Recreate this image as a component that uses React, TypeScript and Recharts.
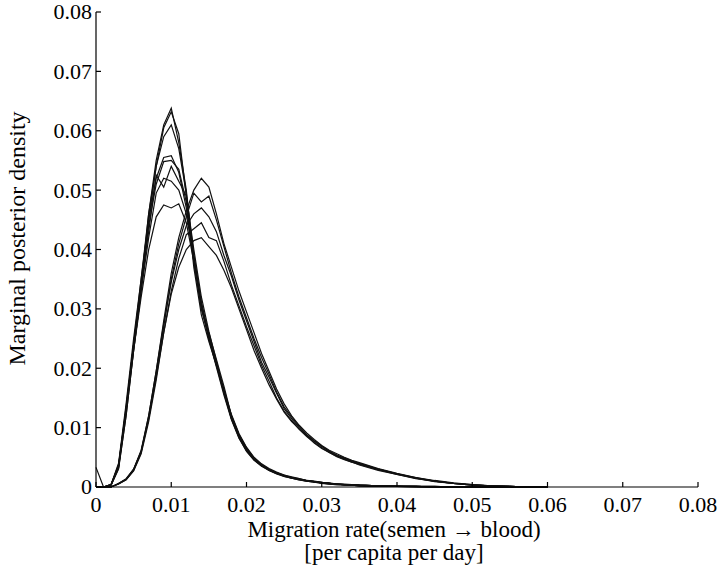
import React from 'react';
import { LineChart, Line, XAxis, YAxis, Label } from 'recharts';

// migration rate grid (per capita per day)
const rates = [
  0, 0.001, 0.002, 0.003, 0.004, 0.005, 0.006, 0.007, 0.008, 0.009,
  0.01, 0.011, 0.012, 0.013, 0.014, 0.015, 0.016, 0.017, 0.018, 0.019,
  0.02, 0.021, 0.022, 0.023, 0.024, 0.025, 0.026, 0.027, 0.028, 0.029,
  0.03, 0.031, 0.032, 0.033, 0.034, 0.035,
  0.0375, 0.04, 0.0425, 0.045, 0.0475, 0.05, 0.0525, 0.055, 0.0575, 0.06,
];

// narrow runs, peak near 0.010
const runA1 = [
  0, 0, 0.0004, 0.0035, 0.013, 0.024, 0.034, 0.046, 0.055, 0.061,
  0.0638, 0.058, 0.05, 0.038, 0.03, 0.025, 0.021, 0.016, 0.0115, 0.0085,
  0.0062, 0.0047, 0.0036, 0.0029, 0.0023, 0.0019, 0.0016, 0.0013, 0.0011, 0.0009,
  0.0007, 0.0006, 0.0005, 0.0004, 0.0003, 0.0003,
  0.0002, 0.0001, 0.0001, 0, 0, 0, 0, 0, 0, 0,
];
const runA2 = [
  0, 0, 0.0003, 0.003, 0.012, 0.023, 0.033, 0.045, 0.054, 0.0605,
  0.0632, 0.0595, 0.049, 0.037, 0.029, 0.0245, 0.0205, 0.0165, 0.012, 0.0088,
  0.0065, 0.0049, 0.0037, 0.003, 0.0024, 0.0019, 0.0016, 0.0014, 0.0011, 0.0009,
  0.0008, 0.0006, 0.0005, 0.0004, 0.0004, 0.0003,
  0.0002, 0.0002, 0.0001, 0.0001, 0, 0, 0, 0, 0, 0,
];
const runA3 = [
  0, 0, 0.0004, 0.0038, 0.013, 0.024, 0.035, 0.046, 0.054, 0.059,
  0.061, 0.057, 0.0495, 0.039, 0.031, 0.0255, 0.021, 0.016, 0.0118, 0.0086,
  0.0063, 0.0046, 0.0036, 0.0029, 0.0023, 0.0019, 0.0015, 0.0013, 0.001, 0.0009,
  0.0007, 0.0006, 0.0005, 0.0004, 0.0003, 0.0002,
  0.0002, 0.0001, 0.0001, 0, 0, 0, 0, 0, 0, 0,
];
const runA4 = [
  0.0033, 0, 0.0004, 0.004, 0.014, 0.025, 0.035, 0.045, 0.052, 0.0555,
  0.0558, 0.053, 0.047, 0.038, 0.03, 0.026, 0.0215, 0.017, 0.012, 0.0088,
  0.0066, 0.0048, 0.0038, 0.003, 0.0024, 0.002, 0.0016, 0.0013, 0.0011, 0.0009,
  0.0008, 0.0006, 0.0005, 0.0004, 0.0004, 0.0003,
  0.0002, 0.0001, 0.0001, 0.0001, 0, 0, 0, 0, 0, 0,
];
const runA5 = [
  0, 0, 0.0003, 0.0033, 0.013, 0.024, 0.034, 0.044, 0.051, 0.0548,
  0.055, 0.0535, 0.048, 0.039, 0.031, 0.025, 0.0205, 0.0158, 0.0115, 0.0083,
  0.006, 0.0045, 0.0035, 0.0028, 0.0023, 0.0018, 0.0015, 0.0012, 0.001, 0.0008,
  0.0007, 0.0005, 0.0004, 0.0004, 0.0003, 0.0002,
  0.0001, 0.0001, 0, 0, 0, 0, 0, 0, 0, 0,
];
const runA6 = [
  0, 0, 0.0004, 0.0036, 0.0135, 0.024, 0.034, 0.043, 0.0525, 0.0505,
  0.054, 0.0515, 0.049, 0.04, 0.032, 0.0262, 0.0212, 0.0162, 0.0122, 0.009,
  0.0067, 0.005, 0.0039, 0.0031, 0.0025, 0.002, 0.0017, 0.0014, 0.0011, 0.001,
  0.0008, 0.0007, 0.0005, 0.0005, 0.0004, 0.0003,
  0.0002, 0.0001, 0.0001, 0, 0, 0, 0, 0, 0, 0,
];
const runA7 = [
  0, 0, 0.0003, 0.0032, 0.012, 0.023, 0.033, 0.042, 0.0495, 0.052,
  0.0515, 0.05, 0.046, 0.0385, 0.0305, 0.025, 0.0202, 0.0155, 0.0113, 0.0082,
  0.0061, 0.0046, 0.0036, 0.0028, 0.0022, 0.0018, 0.0015, 0.0012, 0.001, 0.0008,
  0.0006, 0.0005, 0.0004, 0.0003, 0.0003, 0.0002,
  0.0001, 0.0001, 0, 0, 0, 0, 0, 0, 0, 0,
];
const runA8 = [
  0, 0, 0.0004, 0.0035, 0.013, 0.023, 0.032, 0.04, 0.0455, 0.0475,
  0.047, 0.0477, 0.0445, 0.038, 0.031, 0.0255, 0.0208, 0.016, 0.0118, 0.0087,
  0.0064, 0.0048, 0.0037, 0.0029, 0.0024, 0.0019, 0.0016, 0.0013, 0.0011, 0.0009,
  0.0007, 0.0006, 0.0005, 0.0004, 0.0003, 0.0003,
  0.0002, 0.0001, 0.0001, 0, 0, 0, 0, 0, 0, 0,
];

// wider runs, peak near 0.014
const runB1 = [
  0, 0, 0, 0.0006, 0.0013, 0.003, 0.006, 0.012, 0.0195, 0.028,
  0.036, 0.042, 0.0465, 0.05, 0.052, 0.0505, 0.046, 0.041, 0.037, 0.033,
  0.0295, 0.026, 0.0225, 0.0195, 0.0165, 0.014, 0.012, 0.0104, 0.0091, 0.008,
  0.007, 0.0062, 0.0056, 0.005, 0.0045, 0.0041,
  0.0031, 0.0023, 0.0016, 0.0011, 0.0007, 0.0004, 0.0002, 0.0001, 0, 0,
];
const runB2 = [
  0, 0, 0, 0.0005, 0.0012, 0.0028, 0.0058, 0.0115, 0.019, 0.027,
  0.035, 0.041, 0.0455, 0.0495, 0.048, 0.049, 0.045, 0.0405, 0.036, 0.032,
  0.0285, 0.025, 0.0218, 0.019, 0.016, 0.0135, 0.0118, 0.0102, 0.0088, 0.0078,
  0.0069, 0.006, 0.0054, 0.0049, 0.0044, 0.004,
  0.003, 0.0022, 0.0016, 0.001, 0.0006, 0.0004, 0.0002, 0.0001, 0, 0,
];
const runB3 = [
  0, 0, 0, 0.0006, 0.0014, 0.003, 0.0062, 0.012, 0.0195, 0.0275,
  0.0345, 0.04, 0.044, 0.046, 0.047, 0.0455, 0.043, 0.039, 0.0355, 0.0315,
  0.028, 0.0245, 0.021, 0.0185, 0.0158, 0.0132, 0.0115, 0.01, 0.0087, 0.0077,
  0.0068, 0.006, 0.0053, 0.0048, 0.0043, 0.0039,
  0.003, 0.0022, 0.0015, 0.001, 0.0006, 0.0003, 0.0002, 0.0001, 0, 0,
];
const runB4 = [
  0, 0, 0, 0.0005, 0.0012, 0.0027, 0.0056, 0.011, 0.018, 0.026,
  0.033, 0.0385, 0.0425, 0.0435, 0.0445, 0.042, 0.0415, 0.038, 0.034, 0.0305,
  0.027, 0.0238, 0.0205, 0.0178, 0.015, 0.0128, 0.0112, 0.0097, 0.0085, 0.0075,
  0.0066, 0.0058, 0.0052, 0.0047, 0.0042, 0.0038,
  0.0029, 0.0021, 0.0015, 0.0009, 0.0006, 0.0003, 0.0002, 0.0001, 0, 0,
];
const runB5 = [
  0, 0, 0, 0.0006, 0.0013, 0.0029, 0.006, 0.0115, 0.0185, 0.026,
  0.0325, 0.037, 0.04, 0.0415, 0.042, 0.0405, 0.039, 0.0365, 0.0335, 0.03,
  0.0265, 0.023, 0.02, 0.0172, 0.0148, 0.0126, 0.011, 0.0098, 0.0086, 0.0074,
  0.0065, 0.0058, 0.0051, 0.0046, 0.0042, 0.0037,
  0.0028, 0.0021, 0.0014, 0.001, 0.0006, 0.0003, 0.0002, 0.0001, 0, 0,
];

const runs: Record<string, number[]> = {
  a1: runA1, a2: runA2, a3: runA3, a4: runA4, a5: runA5, a6: runA6, a7: runA7, a8: runA8,
  b1: runB1, b2: runB2, b3: runB3, b4: runB4, b5: runB5,
};

const axisTicks = [0, 0.01, 0.02, 0.03, 0.04, 0.05, 0.06, 0.07, 0.08];

const data = rates.map((x, i) => {
  const row: Record<string, number> = { x };
  Object.keys(runs).forEach((k) => {
    row[k] = runs[k][i];
  });
  return row;
});

const font = 'Liberation Serif';
const fmt = (v: number) => (v === 0 ? '0' : v.toFixed(2));
const noLabel = () => <g />;

// tick labels drawn by hand so the serif font sticks
const XTick = (props: any) => (
  <text x={props.x} y={props.y} dy="0.71em" textAnchor="middle" style={{ fontFamily: font, fontSize: 22 }} fill="#000">
    {fmt(props.payload.value)}
  </text>
);
const YTick = (props: any) => (
  <text x={props.x} y={props.y} dy="0.34em" textAnchor="end" style={{ fontFamily: font, fontSize: 22 }} fill="#000">
    {fmt(props.payload.value)}
  </text>
);

const XTitle = (props: any) => {
  const { x, y, width } = props.viewBox;
  const cx = x + width / 2 - 3;
  return (
    <text textAnchor="middle" style={{ fontFamily: font, fontSize: 23 }} fill="#000">
      <tspan x={cx} y={y + 50}>Migration rate(semen → blood)</tspan>
      <tspan x={cx} y={y + 73}>[per capita per day]</tspan>
    </text>
  );
};

const YTitle = (props: any) => {
  const { y, height } = props.viewBox;
  const cy = y + height / 2 - 11;
  return (
    <text
      x={25}
      y={cy}
      transform={`rotate(-90, 25, ${cy})`}
      textAnchor="middle"
      style={{ fontFamily: font, fontSize: 24 }}
      fill="#000"
    >
      Marginal posterior density
    </text>
  );
};

export default function App() {
  return (
    <div style={{ position: 'absolute', left: 0, top: 0, width: 720, height: 570, background: '#fff' }}>
      <LineChart width={720} height={570} data={data} margin={{ top: 12, right: 22, bottom: 0, left: 0 }}>
        <XAxis
          dataKey="x"
          type="number"
          domain={[0, 0.08]}
          ticks={axisTicks}
          height={83}
          tickSize={-5}
          tickMargin={14}
          tick={XTick}
          stroke="#000"
          strokeWidth={1.2}
          interval={0}
        >
          <Label content={XTitle} />
        </XAxis>
        <XAxis
          xAxisId="top"
          orientation="top"
          type="number"
          domain={[0, 0.08]}
          ticks={axisTicks}
          height={0}
          tickSize={-5}
          tick={noLabel}
          stroke="#000"
          strokeWidth={1.2}
          interval={0}
        />
        <YAxis
          type="number"
          domain={[0, 0.08]}
          ticks={axisTicks}
          width={96}
          tickSize={-5}
          tickMargin={9}
          tick={YTick}
          stroke="#000"
          strokeWidth={1.2}
          interval={0}
        >
          <Label content={YTitle} />
        </YAxis>
        <YAxis
          yAxisId="right"
          orientation="right"
          type="number"
          domain={[0, 0.08]}
          ticks={axisTicks}
          width={0}
          tickSize={-5}
          tick={noLabel}
          stroke="#000"
          strokeWidth={1.2}
          interval={0}
        />
        {Object.keys(runs).map((k) => (
          <Line
            key={k}
            dataKey={k}
            type="linear"
            stroke="#111"
            strokeWidth={1.2}
            dot={false}
            activeDot={false}
            isAnimationActive={false}
          />
        ))}
      </LineChart>
    </div>
  );
}
